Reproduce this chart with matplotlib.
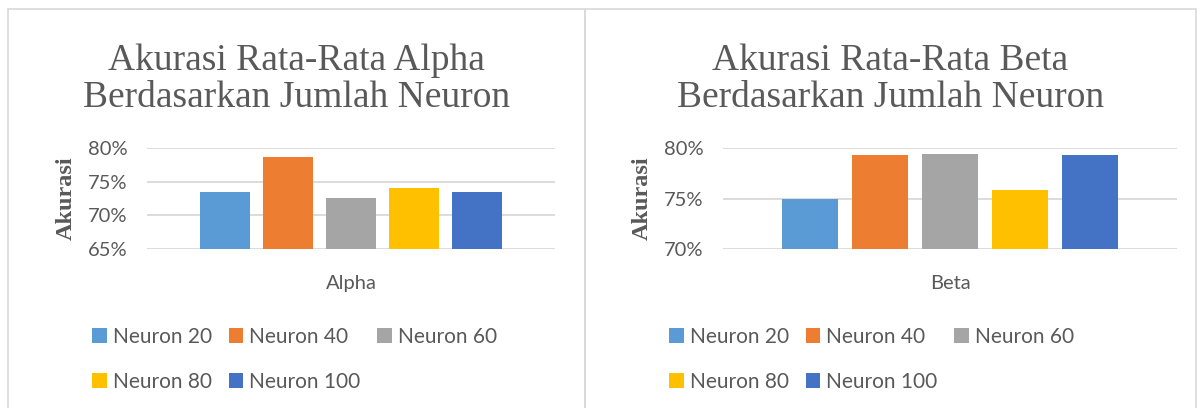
import matplotlib.pyplot as plt
import matplotlib.patches as patches
from matplotlib.ticker import PercentFormatter

neurons = ['Neuron 20', 'Neuron 40', 'Neuron 60', 'Neuron 80', 'Neuron 100']
alpha_acc = [73.4, 78.6, 72.6, 74.1, 73.4]
beta_acc = [75.0, 79.3, 79.4, 75.8, 79.3]
colors = ['#5b9bd5', '#ed7d31', '#a5a5a5', '#ffc000', '#4472c4']

W, H = 1204, 408
TXT = '#595959'
GRID = '#d9d9d9'
SANS = 'Lato'
SERIF = 'Liberation Serif'


def fx(px):
    return px / W


def fy(py):
    return 1 - py / H


def draw_panel(fig, box, axbox, values, ylim, yticks, cat, title, bar_w, step):
    # panel border
    x0, y0, x1, y1 = box
    fig.add_artist(patches.Rectangle((fx(x0), fy(y1)), fx(x1 - x0), (y1 - y0) / H,
                                     transform=fig.transFigure, fill=False,
                                     ec=GRID, lw=1.2))
    ax_l, ax_t, ax_r, ax_b = axbox
    ax = fig.add_axes([fx(ax_l), fy(ax_b), fx(ax_r - ax_l), (ax_b - ax_t) / H])
    pw = ax_r - ax_l
    for i, (v, c) in enumerate(zip(values, colors)):
        ax.bar((i - 2) * step / pw, v - ylim[0], bottom=ylim[0],
               width=bar_w / pw, color=c, label=neurons[i], zorder=3)
    ax.set_xlim(-0.5, 0.5)
    ax.set_ylim(*ylim)
    ax.set_yticks(yticks)
    ax.yaxis.set_major_formatter(PercentFormatter(decimals=0))
    ax.set_xticks([0], [cat])
    ax.grid(axis='y', color=GRID, lw=1.3, zorder=0)
    for s in ax.spines.values():
        s.set_visible(False)
    ax.tick_params(length=0, colors=TXT, labelsize=14.5)
    ax.tick_params(axis='y', pad=14)
    ax.tick_params(axis='x', pad=19)
    for lab in ax.get_xticklabels() + ax.get_yticklabels():
        lab.set_family(SANS)
    ax.set_ylabel('Akurasi', family=SERIF, fontweight='bold', fontsize=17.5,
                  color=TXT, labelpad=8)
    cx = (x0 + x1) / 2
    fig.text(fx(cx), fy(79), title, ha='center', va='center', family=SERIF,
             fontsize=27, color=TXT, linespacing=1.08)
    h, l = ax.get_legend_handles_labels()
    order = [0, 3, 1, 4, 2]
    fig.legend([h[i] for i in order], [l[i] for i in order],
               loc='upper left', bbox_to_anchor=(fx(box[0] + 84), fy(327)),
               ncol=3, frameon=False, prop={'family': SANS, 'size': 15},
               labelcolor=TXT, handlelength=0.7, handleheight=0.7,
               handletextpad=0.3, columnspacing=0.8, labelspacing=1.2,
               borderaxespad=0, borderpad=0)
    return ax


fig = plt.figure(figsize=(W / 100, H / 100), dpi=100)

draw_panel(fig, (8, 9, 585, 420), (147, 148, 555, 249), alpha_acc,
           (65, 80), [65, 70, 75, 80], 'Alpha',
           'Akurasi Rata-Rata Alpha\nBerdasarkan Jumlah Neuron', 50, 63)
draw_panel(fig, (585, 9, 1196, 420), (723, 148, 1177, 249), beta_acc,
           (70, 80), [70, 75, 80], 'Beta',
           'Akurasi Rata-Rata Beta\nBerdasarkan Jumlah Neuron', 56, 70)

fig.savefig('out.png', dpi=100)
